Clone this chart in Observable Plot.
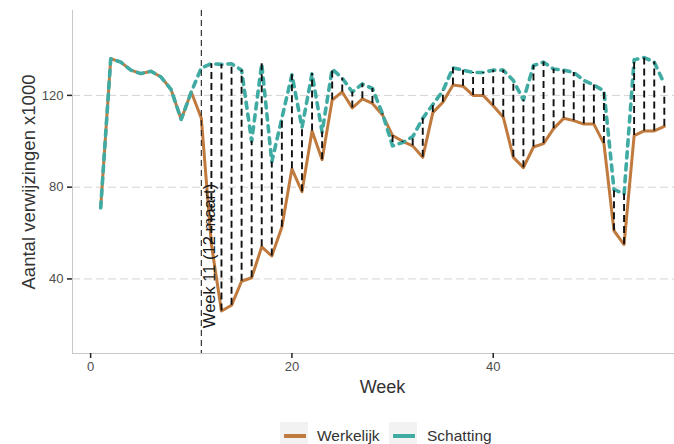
<!DOCTYPE html>
<html>
<head>
<meta charset="utf-8">
<script src="https://cdn.jsdelivr.net/npm/d3@7"></script>
<script src="https://cdn.jsdelivr.net/npm/@observablehq/plot@0.6"></script>
<style>
  html, body { margin: 0; padding: 0; background: #fff; overflow: hidden; width: 674px; height: 444px; }
  #chart { position: absolute; left: 0; top: 0; width: 692px; }
  #chart svg { max-width: none !important; width: 692px; height: 412px; }
  #legend { position: absolute; left: 0; top: 412px; width: 692px; height: 32px; font-family: "Liberation Sans", Arial, sans-serif; }
  .key { position: absolute; top: 10px; width: 28px; height: 28px; background: #f2f2f2; }
  .swatch { position: absolute; left: 4px; top: 12px; width: 22px; height: 4px; }
  .lab { position: absolute; top: 15px; font-size: 15.5px; color: #333; line-height: 18px; }
</style>
</head>
<body>
<div id="chart"></div>
<div id="legend"></div>
<script>
const weeks = [1,2,3,4,5,6,7,8,9,10,11,12,13,14,15,16,17,18,19,20,21,22,23,24,25,26,27,28,29,30,31,32,33,34,35,36,37,38,39,40,41,42,43,44,45,46,47,48,49,50,51,52,53,54,55,56,57];
const werkelijk = [71,136,134.5,131,129.5,130.5,128,122.5,109.5,121.5,110,55,26,28.5,39,40.5,54,50,62.5,88,78,104.5,92,118,121.5,114.5,118.5,116.5,111.5,102.5,100,98,93,112.5,117,124.5,124,120,120,115.5,110.5,93,88.5,97.5,99,105.5,110,109,107.5,107.5,99,61,55,102.5,104.5,104.5,106.5];
const schatting = [71,136,134.5,131,129.5,130.5,128,122.5,109.5,121.5,132,133.8,133.5,133.8,131,100,133.8,91,110,129,106,129.5,104,131.5,127.5,121.5,125,123,112,98,99.5,102,110,116,122,132,131,130,130,131,131,126.5,118,133,134.5,131.5,131,130,126.5,124.5,122,79,77,135.5,136.5,134.5,125];
const yTicks = [40, 80, 120];
const xTicks = [0, 20, 40];
const seriesNames = ["Werkelijk", "Schatting"];
const seriesColors = ["#c07a3e", "#40aba3"];
const lockdownWeek = 11;
const lockdownLabel = "Week 11 (12 maart)";
const firstGapWeek = 12;

const rows = weeks.map((w, i) => ({week: w, werkelijk: werkelijk[i], schatting: schatting[i]}));
const gaps = rows.filter(d => d.week >= firstGapWeek);
const xDomain = [-1.8, 59.8];
const yDomain = [7.5, 157];

const plot = Plot.plot({
  width: 692,
  height: 412,
  marginLeft: 72,
  marginRight: 0,
  marginTop: 10,
  marginBottom: 59,
  x: {domain: xDomain},
  y: {domain: yDomain},
  style: {fontFamily: "'Liberation Sans', Arial, sans-serif", background: "#fff", maxWidth: "none"},
  marks: [
    Plot.ruleY(yTicks, {stroke: "#d8d2d2", strokeWidth: 1, strokeDasharray: "8,4"}),
    Plot.ruleX([xDomain[0]], {stroke: "#c8c8c8", strokeWidth: 1}),
    Plot.ruleY([yDomain[0]], {stroke: "#c8c8c8", strokeWidth: 1}),
    Plot.axisY({ticks: yTicks, tickSize: 5, tickPadding: 4, label: null, fontSize: 13, stroke: "#222", strokeWidth: 1.5, fill: "#4d4d4d"}),
    Plot.axisX({ticks: xTicks, tickSize: 5, tickPadding: 3, label: null, fontSize: 13, stroke: "#222", strokeWidth: 1.5, fill: "#4d4d4d"}),
    Plot.line(rows, {x: "week", y: "werkelijk", stroke: seriesColors[0], strokeWidth: 3}),
    Plot.line(rows, {x: "week", y: "schatting", stroke: seriesColors[1], strokeWidth: 3.6, strokeDasharray: "6,6"}),
    Plot.ruleX(gaps, {x: "week", y1: "werkelijk", y2: "schatting", stroke: "#111", strokeWidth: 1.9, strokeDasharray: "7,4"}),
    Plot.ruleX([lockdownWeek], {stroke: "#222", strokeWidth: 1.1, strokeDasharray: "6,4"}),
    Plot.text([lockdownLabel], {x: () => lockdownWeek, y: () => 50, rotate: -90, dx: 8.7, textAnchor: "middle", lineAnchor: "middle", fontSize: 16.5, fill: "#1a1a1a"}),
    Plot.text(["Week"], {frameAnchor: "bottom", dy: 34, lineAnchor: "middle", fontSize: 18, fill: "#333"}),
    Plot.text(["Aantal verwijzingen x1000"], {frameAnchor: "left", rotate: -90, dx: -43, textAnchor: "middle", lineAnchor: "middle", fontSize: 18.5, fill: "#333"})
  ]
});
document.getElementById("chart").appendChild(plot);

// legend
const legend = document.getElementById("legend");
const keyLefts = [280, 389];
const labLefts = [317, 427];
seriesNames.forEach((name, i) => {
  const key = document.createElement("div");
  key.className = "key";
  key.style.left = keyLefts[i] + "px";
  const sw = document.createElement("div");
  sw.className = "swatch";
  sw.style.background = seriesColors[i];
  key.appendChild(sw);
  legend.appendChild(key);
  const lab = document.createElement("div");
  lab.className = "lab";
  lab.style.left = labLefts[i] + "px";
  lab.textContent = name;
  legend.appendChild(lab);
});
</script>
</body>
</html>
